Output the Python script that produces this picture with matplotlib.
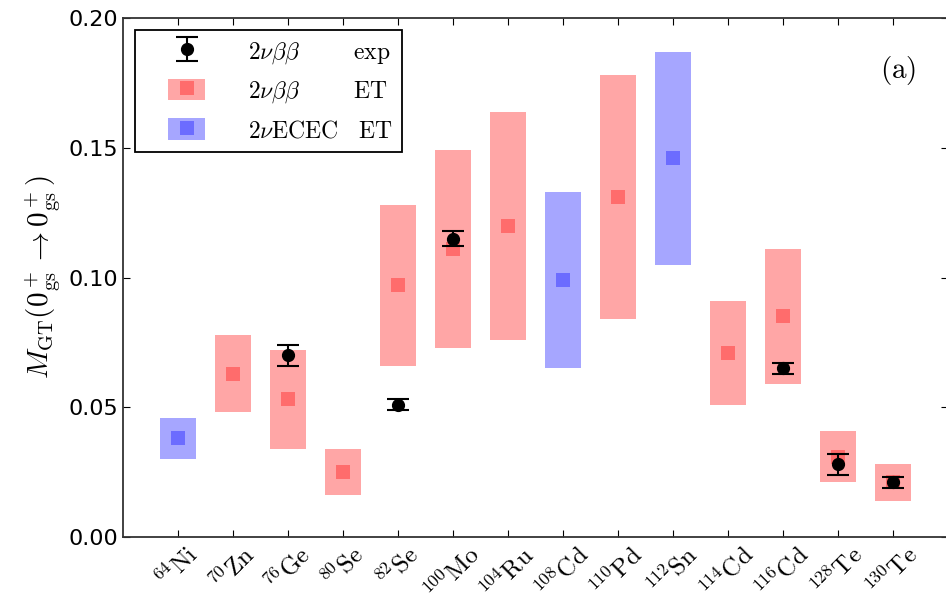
import matplotlib
matplotlib.use("Agg")
import matplotlib.pyplot as plt
from matplotlib.patches import Patch, Rectangle
from matplotlib.lines import Line2D
from matplotlib.legend_handler import HandlerPatch, HandlerTuple
import numpy as np

plt.rcParams['mathtext.fontset'] = 'cm'

# nuclei (mass number, symbol)
nuclei = [("64", "Ni"), ("70", "Zn"), ("76", "Ge"), ("80", "Se"), ("82", "Se"),
          ("100", "Mo"), ("104", "Ru"), ("108", "Cd"), ("110", "Pd"), ("112", "Sn"),
          ("114", "Cd"), ("116", "Cd"), ("128", "Te"), ("130", "Te")]
# decay type: 'bb' = 2nu beta beta, 'ec' = 2nu ECEC
kind = ["ec", "bb", "bb", "bb", "bb", "bb", "bb", "ec", "bb", "ec", "bb", "bb", "bb", "bb"]

# effective theory: central value and range
et_val = [0.038, 0.063, 0.053, 0.025, 0.097, 0.111, 0.120, 0.099, 0.131, 0.146,
          0.071, 0.085, 0.031, 0.021]
et_low = [0.030, 0.048, 0.034, 0.016, 0.066, 0.073, 0.076, 0.065, 0.084, 0.105,
          0.051, 0.059, 0.021, 0.014]
et_high = [0.046, 0.078, 0.072, 0.034, 0.128, 0.149, 0.164, 0.133, 0.178, 0.187,
           0.091, 0.111, 0.041, 0.028]

# experiment (index into nuclei list)
exp_idx = [2, 4, 5, 11, 12, 13]
exp_val = [0.070, 0.051, 0.115, 0.065, 0.028, 0.021]
exp_err = [0.004, 0.002, 0.003, 0.002, 0.004, 0.002]

colors = {"bb": "red", "ec": "blue"}

fig = plt.figure(figsize=(9.46, 6.06), dpi=100)
ax = fig.add_axes([0.130, 0.114, 0.872, 0.856])

x = np.arange(1, len(nuclei) + 1)
w = 0.65
for i in range(len(nuclei)):
    c = colors[kind[i]]
    ax.bar(x[i], et_high[i] - et_low[i], width=w, bottom=et_low[i],
           color=c, alpha=0.35, linewidth=0)
    ax.plot(x[i], et_val[i], 's', color=c, alpha=0.35, markersize=10.5,
            markeredgewidth=0)

h_exp = ax.errorbar(x[exp_idx], exp_val, yerr=exp_err, fmt='o', color='black',
                    markersize=8.5, capsize=8, elinewidth=1.5, capthick=1.5)

ax.set_xlim(0, 15)
ax.set_ylim(0, 0.20)
ax.set_yticks([0.0, 0.05, 0.10, 0.15, 0.20])
ax.set_xticks(x)
ax.set_xticklabels([r"$^{%s}\mathrm{%s}$" % (a, s) for a, s in nuclei],
                   rotation=45, fontsize=18)
ax.tick_params(axis='both', direction='in', top=True, right=True, length=5)
ax.tick_params(axis='y', labelsize=16)
for sp in ax.spines.values():
    sp.set_linewidth(1.3)
    sp.set_color('#333333')

ax.set_ylabel(r"$M_{\rm GT}(0^+_{\rm gs}\rightarrow 0^+_{\rm gs})$", fontsize=21)

ax.text(14.09, 0.180, r"$\mathrm{(a)}$", fontsize=21, ha='center', va='center')


# narrower box than the handle slot, centred in it
def small_box(legend, orig_handle, xdescent, ydescent, width, height, fontsize):
    pw = width * 0.43
    return Rectangle((-xdescent + width / 2 - pw / 2, -ydescent), pw, height)


def square(c):
    return Line2D([], [], marker='s', color=c, alpha=0.35, linestyle='none',
                  markersize=10.5, markeredgewidth=0)


h_bb = (Patch(facecolor='red', alpha=0.35, linewidth=0), square('red'))
h_ec = (Patch(facecolor='blue', alpha=0.35, linewidth=0), square('blue'))
leg = ax.legend([h_exp, h_bb, h_ec],
                [r"$2\nu\beta\beta\qquad\ \ \mathrm{exp}$",
                 r"$2\nu\beta\beta\qquad\ \ \mathrm{ET}$",
                 r"$2\nu\mathrm{ECEC}\ \ \ \mathrm{ET}$"],
                loc='upper left', fontsize=17, fancybox=False, framealpha=1,
                edgecolor='black', handlelength=3.6, handleheight=1.0,
                borderpad=0.4, labelspacing=0.55, handletextpad=0.8,
                borderaxespad=0.5,
                handler_map={Patch: HandlerPatch(patch_func=small_box),
                             tuple: HandlerTuple(ndivide=1)})
leg.get_frame().set_linewidth(1.3)

fig.savefig("out.png", dpi=100)
